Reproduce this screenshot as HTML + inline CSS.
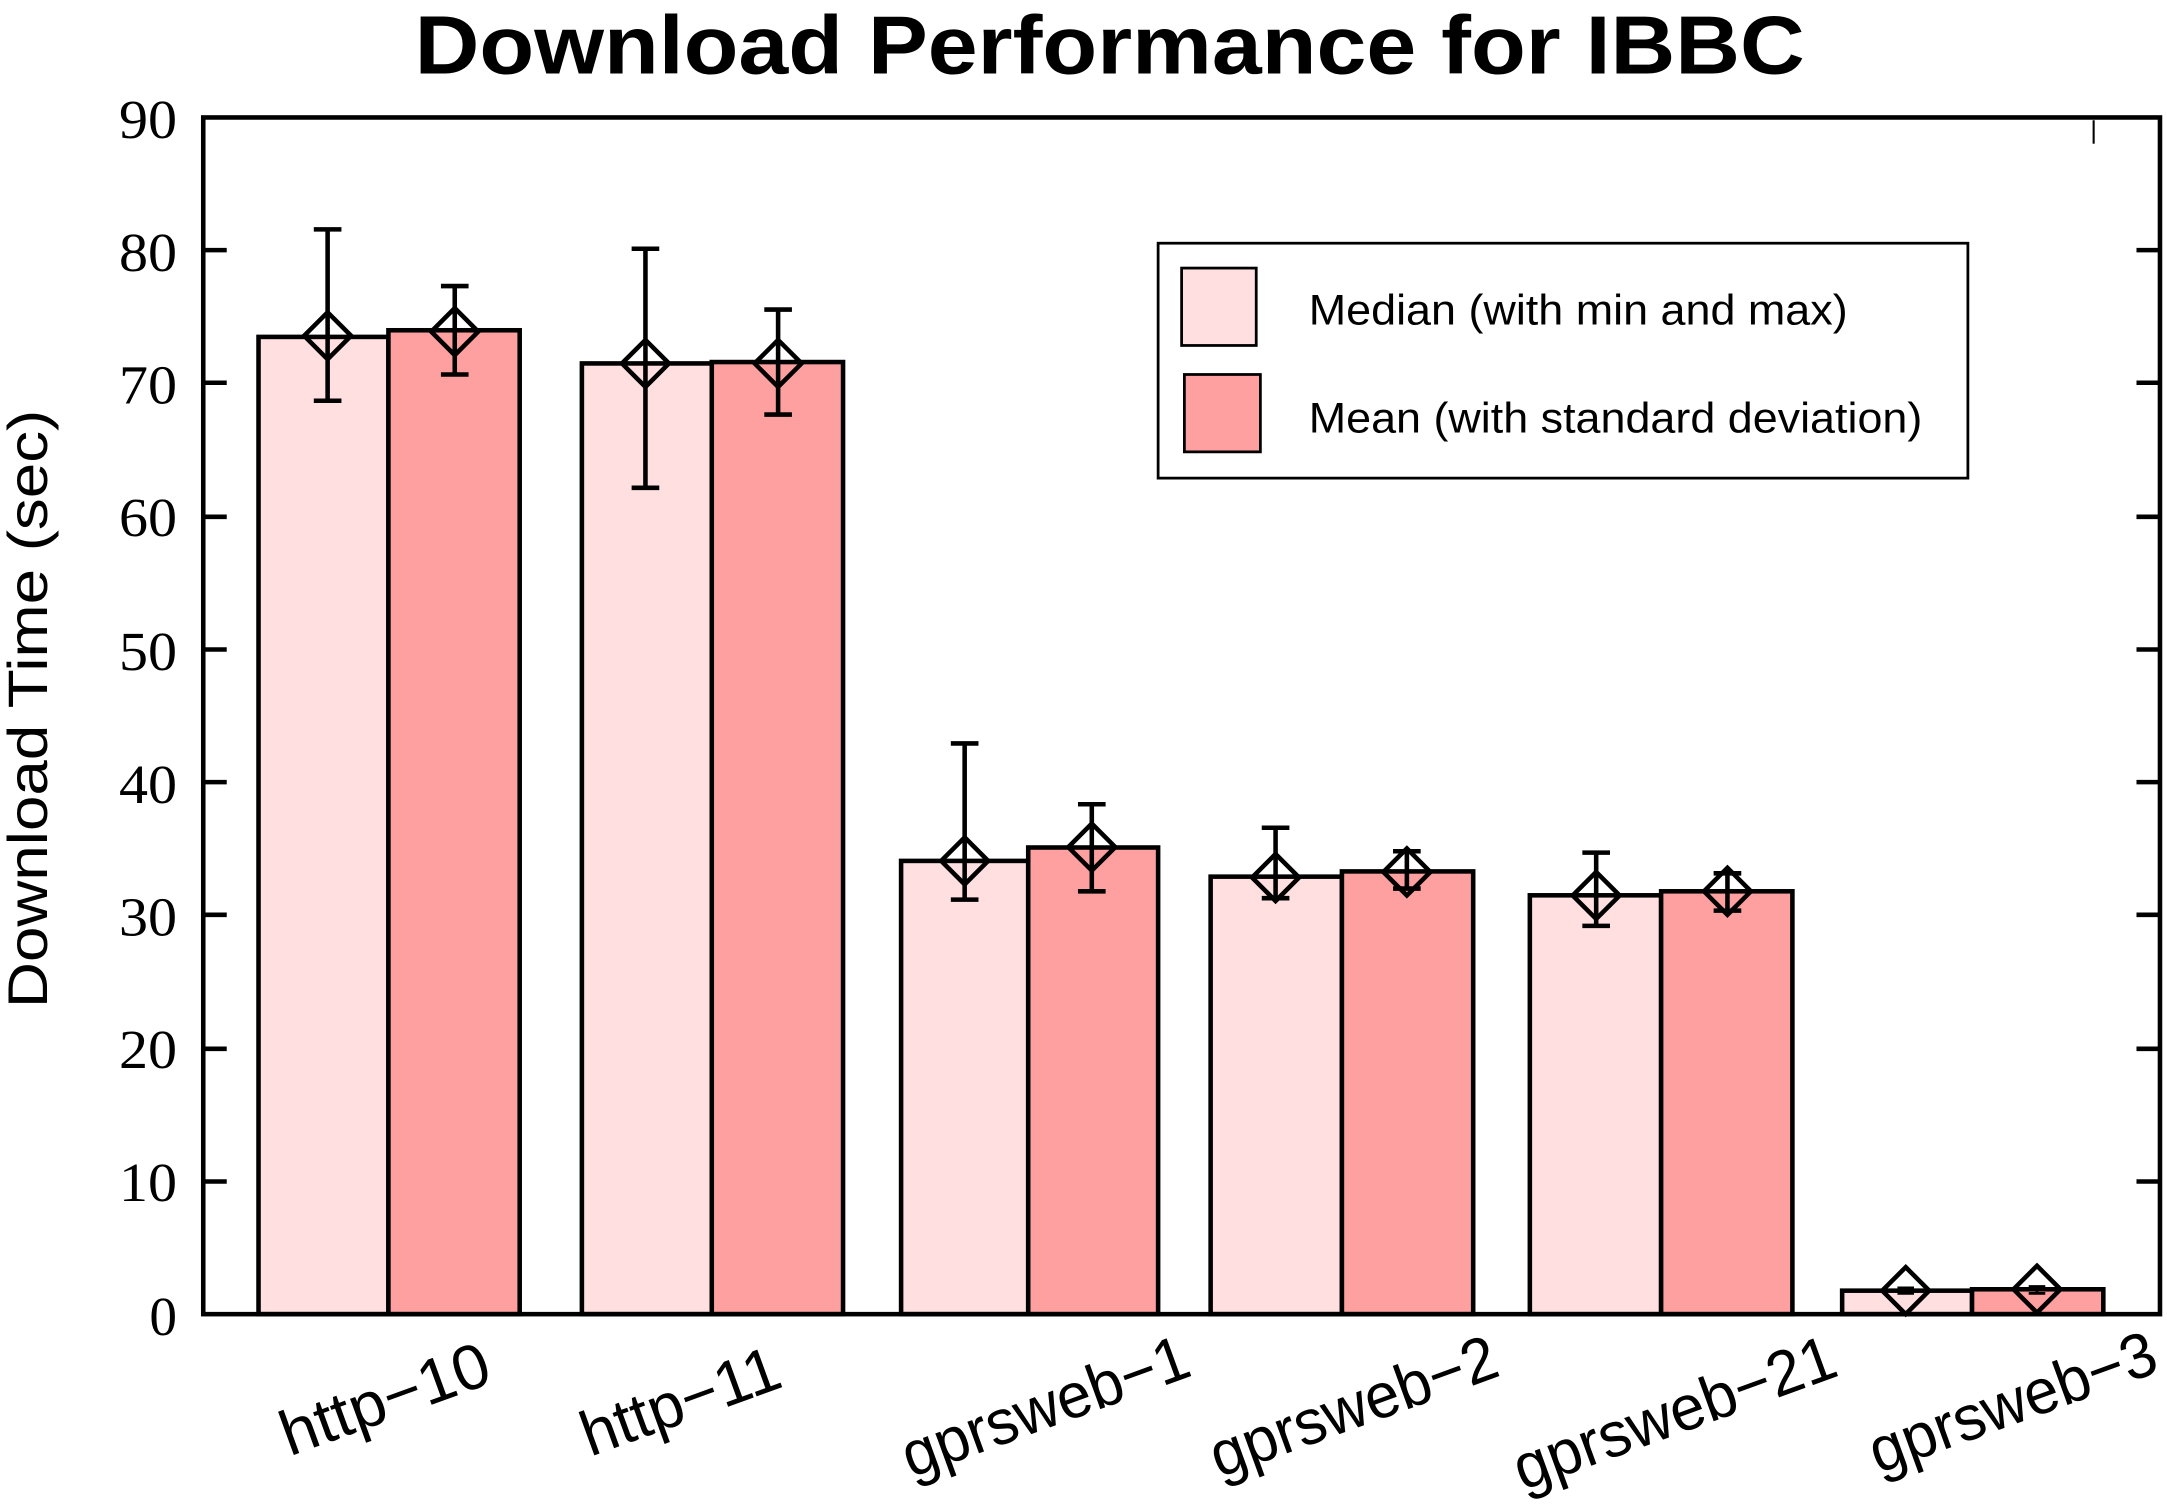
<!DOCTYPE html>
<html><head><meta charset="utf-8"><style>html,body{margin:0;padding:0;background:#fff;}svg{display:block;}</style></head>
<body>
<svg width="2167" height="1509" viewBox="0 0 1568 1092" xmlns="http://www.w3.org/2000/svg">
<rect x="0" y="0" width="1568" height="1092" fill="#fff"/>
<text x="803" y="53" text-anchor="middle" font-family="Liberation Sans, sans-serif" font-weight="bold" font-size="60" textLength="1006" lengthAdjust="spacingAndGlyphs">Download Performance for IBBC</text>
<text transform="translate(34,513) rotate(-90)" text-anchor="middle" font-family="Liberation Sans, sans-serif" font-size="40" textLength="433" lengthAdjust="spacingAndGlyphs">Download Time (sec)</text>
<g font-family="Liberation Serif, serif" font-size="40" text-anchor="end">
<text x="128" y="100" textLength="42" lengthAdjust="spacingAndGlyphs">90</text><text x="128" y="196" textLength="42" lengthAdjust="spacingAndGlyphs">80</text><text x="128" y="292" textLength="42" lengthAdjust="spacingAndGlyphs">70</text><text x="128" y="388" textLength="42" lengthAdjust="spacingAndGlyphs">60</text><text x="128" y="485" textLength="42" lengthAdjust="spacingAndGlyphs">50</text><text x="128" y="581" textLength="42" lengthAdjust="spacingAndGlyphs">40</text><text x="128" y="677" textLength="42" lengthAdjust="spacingAndGlyphs">30</text><text x="128" y="773" textLength="42" lengthAdjust="spacingAndGlyphs">20</text><text x="128" y="869" textLength="42" lengthAdjust="spacingAndGlyphs">10</text><text x="128" y="966">0</text>
</g>
<g stroke="#000" stroke-width="3.3">
<rect x="187" y="243.8" width="94" height="707.2" fill="#ffdfe0"/>
<rect x="281" y="239" width="95" height="712" fill="#ffa0a0"/>
<rect x="421" y="263" width="94" height="688" fill="#ffdfe0"/>
<rect x="515" y="262" width="95" height="689" fill="#ffa0a0"/>
<rect x="652" y="623" width="92" height="328" fill="#ffdfe0"/>
<rect x="744" y="613.3" width="94" height="337.7" fill="#ffa0a0"/>
<rect x="876" y="634.4" width="95" height="316.6" fill="#ffdfe0"/>
<rect x="971" y="630.6" width="95" height="320.4" fill="#ffa0a0"/>
<rect x="1107" y="647.9" width="95" height="303.1" fill="#ffdfe0"/>
<rect x="1202" y="645" width="95" height="306" fill="#ffa0a0"/>
<rect x="1333" y="934" width="94" height="17" fill="#ffdfe0"/>
<rect x="1427" y="933" width="95" height="18" fill="#ffa0a0"/>
</g>
<g stroke="#000" stroke-width="3.3" fill="none">
<path d="M237 290V166M227 290h20M227 166h20"/>
<path d="M329 271V207M319 271h20M319 207h20"/>
<path d="M467 353V180M457 353h20M457 180h20"/>
<path d="M563 300V224M553 300h20M553 224h20"/>
<path d="M698 651V538M688 651h20M688 538h20"/>
<path d="M790 645V582M780 645h20M780 582h20"/>
<path d="M923 650V599M913 650h20M913 599h20"/>
<path d="M1018 643V616M1008 643h20M1008 616h20"/>
<path d="M1155 670V617M1145 670h20M1145 617h20"/>
<path d="M1250 659V632M1240 659h20M1240 632h20"/>
<path d="M1379 936V932M1373 936h12M1373 932h12" stroke-width="2"/>
<path d="M1474 936V931M1468 936h12M1468 931h12" stroke-width="2"/>
<g>
<path d="M237 226l17 17-17 17-17-17z"/>
<path d="M329 223l17 17-17 17-17-17z"/>
<path d="M467 246l17 17-17 17-17-17z"/>
<path d="M563 246l17 17-17 17-17-17z"/>
<path d="M698 606l17 17-17 17-17-17z"/>
<path d="M790 596l17 17-17 17-17-17z"/>
<path d="M923 618l17 17-17 17-17-17z"/>
<path d="M1018 614l17 17-17 17-17-17z"/>
<path d="M1155 631l17 17-17 17-17-17z"/>
<path d="M1250 628l17 17-17 17-17-17z"/>
<path d="M1379 917l17 17-17 17-17-17z"/>
<path d="M1474 916l17 17-17 17-17-17z"/>
</g>
</g>
<g stroke="#000" stroke-width="3.3" fill="none">
<rect x="147" y="85" width="1416" height="866"/>
<path d="M147 181h17M147 277h17M147 374h17M147 470h17M147 566h17M147 662h17M147 759h17M147 855h17"/>
<path d="M1563 181h-17M1563 277h-17M1563 374h-17M1563 470h-17M1563 566h-17M1563 662h-17M1563 759h-17M1563 855h-17"/>
</g>
<path d="M1515 87v17" stroke="#000" stroke-width="1.5"/>
<rect x="838" y="176" width="586" height="170" fill="#fff" stroke="#000" stroke-width="2"/>
<rect x="855" y="194" width="54" height="56" fill="#ffdfe0" stroke="#000" stroke-width="2"/>
<rect x="857" y="271" width="55" height="56" fill="#ffa0a0" stroke="#000" stroke-width="2"/>
<g font-family="Liberation Sans, sans-serif" font-size="31">
<text x="947" y="235" textLength="390" lengthAdjust="spacingAndGlyphs">Median (with min and max)</text>
<text x="947" y="313" textLength="444" lengthAdjust="spacingAndGlyphs">Mean (with standard deviation)</text>
</g>
<g font-family="Liberation Sans, sans-serif" font-size="46" text-anchor="end">
<text transform="translate(358,1000) rotate(-20)" textLength="158" lengthAdjust="spacingAndGlyphs">http−10</text>
<text transform="translate(568,1003) rotate(-20)" textLength="150" lengthAdjust="spacingAndGlyphs">http−11</text>
<text transform="translate(864,995) rotate(-20)" textLength="218" lengthAdjust="spacingAndGlyphs">gprsweb−1</text>
<text transform="translate(1087,995) rotate(-20)" textLength="218" lengthAdjust="spacingAndGlyphs">gprsweb−2</text>
<text transform="translate(1332,995) rotate(-20)" textLength="245" lengthAdjust="spacingAndGlyphs">gprsweb−21</text>
<text transform="translate(1564,992) rotate(-20)" textLength="218" lengthAdjust="spacingAndGlyphs">gprsweb−3</text>
</g>
</svg>
</body></html>
